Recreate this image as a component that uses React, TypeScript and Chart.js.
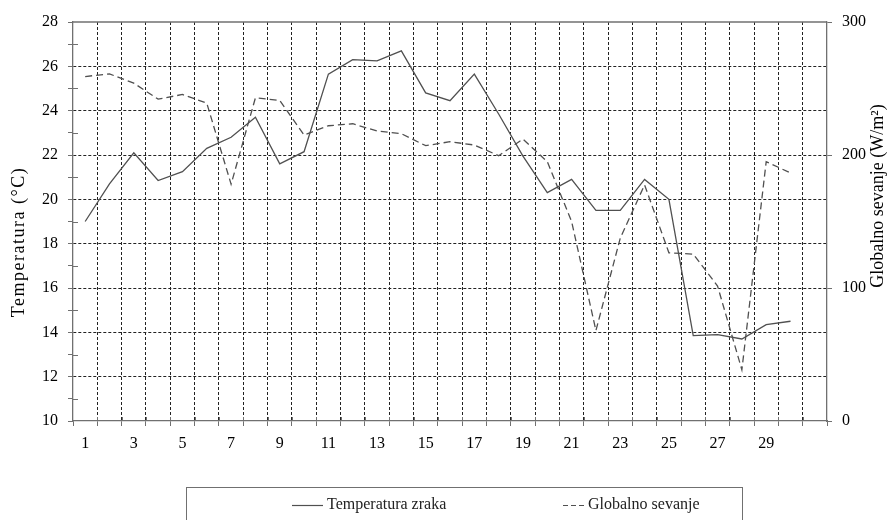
import React, { useEffect, useRef } from 'react';
import { Chart, registerables } from 'chart.js';

Chart.register(...registerables);

const categories: string[] = [
  '1', '2', '3', '4', '5', '6', '7', '8', '9', '10',
  '11', '12', '13', '14', '15', '16', '17', '18', '19', '20',
  '21', '22', '23', '24', '25', '26', '27', '28', '29', '30', '',
];

const temperatura: number[] = [
  19.0, 20.7, 22.1, 20.85, 21.25, 22.3, 22.8, 23.7, 21.6, 22.15,
  25.65, 26.3, 26.25, 26.7, 24.8, 24.45, 25.65, 23.85, 21.95, 20.3,
  20.9, 19.5, 19.5, 20.9, 20.0, 13.85, 13.9, 13.7, 14.35, 14.5,
];

const sevanje: number[] = [
  259, 261, 254, 242, 245.5, 239, 178, 243, 241, 215,
  222, 223.5, 218, 216, 207, 210, 207.5, 199.5, 212, 195,
  150, 68, 137.5, 177.5, 126.5, 125.5, 101.5, 38.5, 195, 186.5,
];

const leftTicks = { min: 10, max: 28, step: 1 };
const rightTicks = { min: 0, max: 300, step: 100 };

const labelTemp = 'Temperatura zraka';
const labelSev = 'Globalno sevanje';
const titleLeft = 'Temperatura (°C)';
const titleRight = 'Globalno sevanje (W/m²)';

const FONT = '"Liberation Serif", "Times New Roman", serif';
const AXIS_COLOR = '#707070';
const GRID_COLOR = '#222222';
const LINE_COLOR = '#505050';
const CLEAR = 'rgba(0,0,0,0)';

const decorPlugin = {
  id: 'decor',
  afterDraw(chart: any) {
    const { ctx, chartArea } = chart;
    const ys = chart.scales.y;
    ctx.save();
    // top border
    ctx.strokeStyle = AXIS_COLOR;
    ctx.lineWidth = 1.3;
    ctx.beginPath();
    ctx.moveTo(chartArea.left, chartArea.top);
    ctx.lineTo(chartArea.right, chartArea.top);
    ctx.stroke();
    // x ticks crossing above the axis
    ctx.lineWidth = 1;
    const n = categories.length;
    const w = (chartArea.right - chartArea.left) / n;
    ctx.beginPath();
    for (let i = 1; i < n; i++) {
      const x = Math.round(chartArea.left + i * w) + 0.5;
      ctx.moveTo(x, chartArea.bottom - 4);
      ctx.lineTo(x, chartArea.bottom);
    }
    // left minor ticks crossing
    for (let v = leftTicks.min + 1; v < leftTicks.max; v += 2) {
      const y = Math.round(ys.getPixelForValue(v)) + 0.5;
      ctx.moveTo(chartArea.left, y);
      ctx.lineTo(chartArea.left + 5, y);
    }
    ctx.stroke();

    // titles
    ctx.fillStyle = '#000';
    ctx.font = `18px ${FONT}`;
    ctx.textAlign = 'center';
    ctx.textBaseline = 'middle';
    ctx.save();
    (ctx as any).letterSpacing = '1.5px';
    ctx.translate(19, 242);
    ctx.rotate(-Math.PI / 2);
    ctx.fillText(titleLeft, 0, 0);
    ctx.restore();
    ctx.save();
    ctx.translate(878, 196);
    ctx.rotate(-Math.PI / 2);
    ctx.fillText(titleRight, 0, 0);
    ctx.restore();

    // legend box
    const bx = 186.5, by = 487.5, bw = 556, bh = 60;
    ctx.strokeStyle = AXIS_COLOR;
    ctx.lineWidth = 1;
    ctx.strokeRect(bx, by, bw, bh);
    const ly = 505;
    const ds = chart.data.datasets;
    ctx.font = `16px ${FONT}`;
    ctx.textAlign = 'left';
    ctx.fillStyle = '#222';
    ctx.strokeStyle = ds[0].borderColor;
    ctx.lineWidth = 1.2;
    ctx.setLineDash([]);
    ctx.beginPath();
    ctx.moveTo(292, ly + 0.5);
    ctx.lineTo(323, ly + 0.5);
    ctx.stroke();
    ctx.fillText(ds[0].label, 327, ly);
    ctx.strokeStyle = ds[1].borderColor;
    ctx.setLineDash([5, 3]);
    ctx.beginPath();
    ctx.moveTo(563, ly + 0.5);
    ctx.lineTo(584, ly + 0.5);
    ctx.stroke();
    ctx.setLineDash([]);
    ctx.fillText(ds[1].label, 588, ly);
    ctx.restore();
  },
};

export default function App() {
  const ref = useRef<HTMLCanvasElement | null>(null);
  useEffect(() => {
    document.body.style.margin = '0';
    const canvas = ref.current;
    if (!canvas) return;
    const chart = new Chart(canvas, {
      type: 'line',
      data: {
        labels: categories,
        datasets: [
          {
            label: labelTemp,
            data: temperatura,
            yAxisID: 'y',
            borderColor: LINE_COLOR,
            borderWidth: 1.3,
            pointRadius: 0,
            tension: 0,
            fill: false,
          },
          {
            label: labelSev,
            data: sevanje,
            yAxisID: 'y1',
            borderColor: LINE_COLOR,
            borderWidth: 1.3,
            borderDash: [7, 4],
            pointRadius: 0,
            tension: 0,
            fill: false,
          },
        ],
      },
      options: {
        animation: false,
        responsive: false,
        maintainAspectRatio: false,
        layout: { padding: { top: 22, left: 0, right: 0, bottom: 0 } },
        plugins: { legend: { display: false }, tooltip: { enabled: false } },
        scales: {
          x: {
            type: 'category',
            offset: true,
            afterFit: (s: any) => { s.height = 99; },
            grid: {
              offset: true,
              color: (c: any) => (c.type === 'tick' && c.index > 0 ? GRID_COLOR : CLEAR),
              lineWidth: 1,
              drawTicks: true,
              tickLength: 5,
              tickColor: AXIS_COLOR,
              tickWidth: 1,
            },
            border: { color: AXIS_COLOR, width: 1.3, dash: [3, 2] },
            ticks: {
              autoSkip: false,
              maxRotation: 0,
              padding: 8,
              color: '#000',
              font: { family: FONT, size: 16 },
              callback: (_v: any, i: number) => (i % 2 === 0 ? categories[i] : ''),
            },
          },
          y: {
            position: 'left',
            min: leftTicks.min,
            max: leftTicks.max,
            afterFit: (s: any) => { s.width = 73; },
            grid: {
              color: (c: any) =>
                c.tick && c.tick.value % 2 === 0 && c.tick.value > leftTicks.min && c.tick.value < leftTicks.max
                  ? GRID_COLOR
                  : CLEAR,
              lineWidth: 1,
              drawTicks: true,
              tickLength: 5,
              tickColor: AXIS_COLOR,
              tickWidth: 1,
            },
            border: { color: AXIS_COLOR, width: 1.3, dash: [3, 2] },
            ticks: {
              stepSize: leftTicks.step,
              autoSkip: false,
              padding: 10,
              color: '#000',
              font: { family: FONT, size: 16 },
              callback: (v: any) => (Number(v) % 2 === 0 ? String(v) : ''),
            },
          },
          y1: {
            position: 'right',
            min: rightTicks.min,
            max: rightTicks.max,
            afterFit: (s: any) => { s.width = 64; },
            grid: {
              drawOnChartArea: false,
              drawTicks: true,
              tickLength: 5,
              tickColor: AXIS_COLOR,
              tickWidth: 1,
            },
            border: { color: AXIS_COLOR, width: 1.3 },
            ticks: {
              stepSize: rightTicks.step,
              padding: 10,
              color: '#000',
              font: { family: FONT, size: 16 },
            },
          },
        },
      },
      plugins: [decorPlugin],
    } as any);
    return () => chart.destroy();
  }, []);
  return (
    <div style={{ width: 891, height: 520 }}>
      <canvas ref={ref} width={891} height={520} style={{ display: 'block', width: 891, height: 520 }} />
    </div>
  );
}
